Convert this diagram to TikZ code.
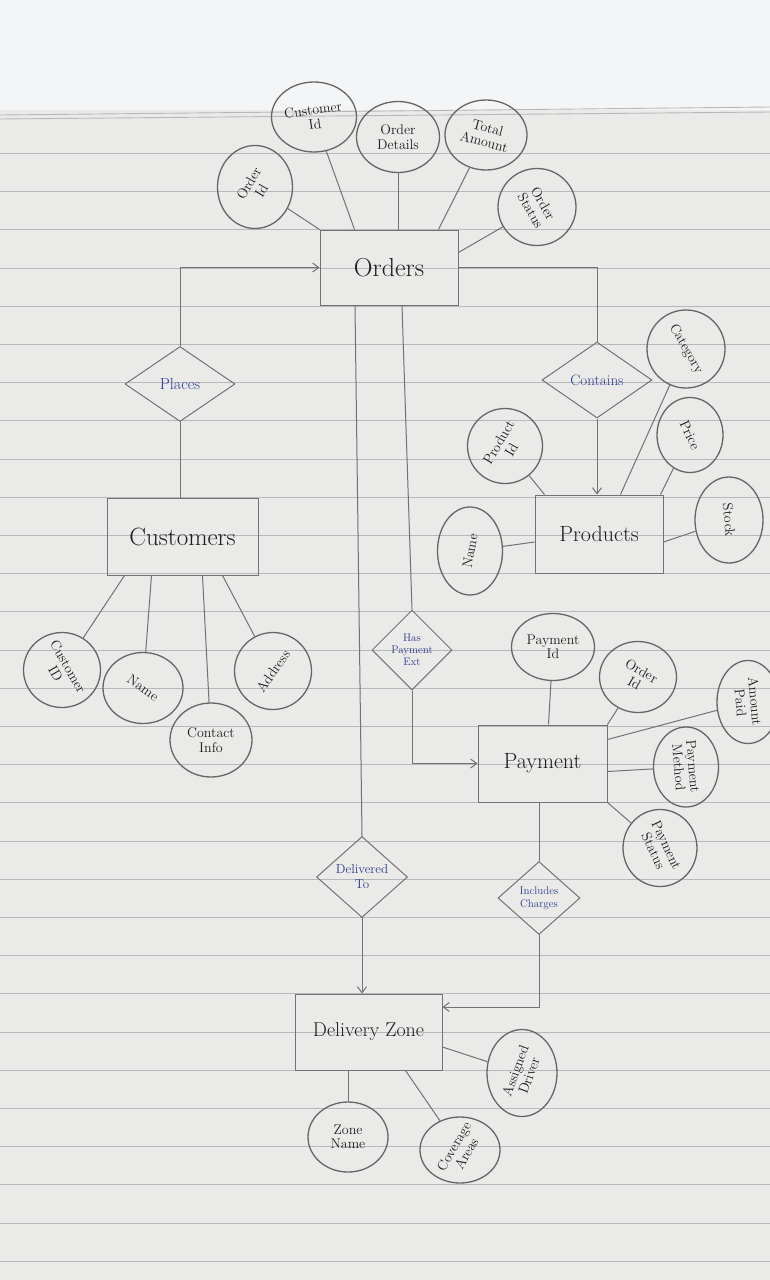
\documentclass[tikz,border=0pt]{standalone}
\usetikzlibrary{shapes.geometric,arrows.meta,calc}
\definecolor{paper}{HTML}{EAEAE9}
\definecolor{papertop}{HTML}{F3F5F6}
\definecolor{ruling}{HTML}{B8B8B8}
\definecolor{pencil}{HTML}{727272}
\definecolor{ovalline}{HTML}{666666}
\definecolor{ink}{HTML}{1E1E1E}
\definecolor{blueink}{HTML}{2B3A8F}
\tikzset{
  entity/.style={draw=pencil, line width=1pt, rectangle, inner sep=0pt, text=ink},
  attr/.style={draw=ovalline, line width=1.3pt, ellipse, inner sep=0pt},
  attrtext/.style={text=ink, align=center, font=\fontsize{14}{14.5}\selectfont, inner sep=0pt},
  rel/.style={draw=pencil, line width=1pt, diamond, inner sep=0pt},
  reltext/.style={text=blueink, align=center, inner sep=0pt},
  conn/.style={draw=pencil, line width=1pt},
  arr/.style={conn, -{Straight Barb[length=6pt,width=9pt]}},
  paperline/.style={draw=ruling, line width=0.9pt},
}
\newcommand\ERattr[6]{%
  \node[attr, minimum width=#3pt, minimum height=#4pt] (#1) at (#2) {};
  \node[attrtext, rotate=#5] (#1-t) at (#1.center) {#6};}
\begin{document}
\begin{tikzpicture}[x=1pt,y=-1pt]
\useasboundingbox (0,0) rectangle (770,1280);
% paper
\fill[paper] (0,0) rectangle (770,1280);
\fill[papertop] (0,0) rectangle (770,110);
\draw[paperline] (0,115) -- (770,107);
\draw[paperline] (0,119) -- (770,112);
\foreach \i in {-3,...,26} \draw[paperline] (0,268+38.2*\i) -- (770,268+38.2*\i);

% ---------- entities ----------
\node[entity, minimum width=138pt, minimum height=75pt, font=\fontsize{26}{28}\selectfont] (orders) at (389,267.5) {Orders};
\node[entity, minimum width=151pt, minimum height=77pt, font=\fontsize{25}{27}\selectfont] (customers) at (182.5,536.5) {Customers};
\node[entity, minimum width=128pt, minimum height=78pt, font=\fontsize{22}{24}\selectfont] (products) at (599,534) {Products};
\node[entity, minimum width=129pt, minimum height=77pt, font=\fontsize{22}{24}\selectfont] (payment) at (542.5,763.5) {Payment};
\node[entity, minimum width=147pt, minimum height=76pt, font=\fontsize{20}{22}\selectfont] (dzone) at (368.5,1032) {Delivery Zone};

% ---------- relationships ----------
\node[rel, minimum width=110pt, minimum height=75pt] (places) at (180,384) {};
\node[reltext, font=\fontsize{16}{17}\selectfont] (places-t) at (places) {Places};
\node[rel, minimum width=110pt, minimum height=76pt] (contains) at (597,380) {};
\node[reltext, font=\fontsize{15}{16}\selectfont] (contains-t) at (contains) {Contains};
\node[rel, minimum width=80pt, minimum height=80pt] (hpe) at (412,650) {};
\node[reltext, font=\fontsize{11}{12}\selectfont] (hpe-t) at (hpe) {Has\\Payment\\Ext};
\node[rel, minimum width=91pt, minimum height=81pt] (delto) at (362,877) {};
\node[reltext, font=\fontsize{13}{15}\selectfont] (delto-t) at (delto) {Delivered\\To};
\node[rel, minimum width=82pt, minimum height=73pt] (incl) at (539,898) {};
\node[reltext, font=\fontsize{11}{13}\selectfont] (incl-t) at (incl) {Includes\\Charges};

% ---------- attributes ----------
\ERattr{oid}{255,187}{75}{83}{60}{Order\\Id}
\ERattr{cid}{314,117}{85}{70}{8}{Customer\\Id}
\ERattr{odet}{398,137}{83}{71}{0}{Order\\Details}
\ERattr{tamt}{486,135}{82}{70}{-15}{Total\\Amount}
\ERattr{ostat}{537,207}{78}{77}{-60}{Order\\Status}

\ERattr{custid}{62,670}{77}{75}{-60}{Customer\\ID}
\ERattr{cname}{143,688}{80}{71}{-35}{Name}
\ERattr{cinfo}{211,740}{82}{74}{0}{Contact\\Info}
\ERattr{caddr}{273,671}{77}{77}{55}{Address}

\ERattr{cat}{686,349}{78}{78}{-60}{Category}
\ERattr{price}{690,435}{66}{75}{-65}{Price}
\ERattr{stock}{729,520}{68}{86}{-85}{Stock}
\ERattr{pid}{505,446}{75}{75}{60}{Product\\Id}
\ERattr{pname}{470,551}{65}{88}{80}{Name}

\ERattr{payid}{553,647}{83}{67}{0}{Payment\\Id}
\ERattr{poid}{638,677}{77}{71}{-30}{Order\\Id}
\ERattr{apaid}{748,702}{62}{83}{-85}{Amount\\Paid}
\ERattr{pmeth}{686,767}{65}{80}{-85}{Payment\\Method}
\ERattr{pstat}{660,848}{74}{77}{-65}{Payment\\Status}

\ERattr{zname}{348,1137}{80}{70}{0}{Zone\\Name}
\ERattr{covar}{460,1150}{80}{66}{60}{Coverage\\Areas}
\ERattr{adrv}{522,1073}{70}{87}{70}{Assigned\\Driver}

% ---------- attribute connectors ----------
\draw[conn] (oid) -- (orders.north west);
\draw[conn] (cid) -- ([xshift=35pt]orders.north west);
\draw[conn] (odet) -- (odet |- orders.north);
\draw[conn] (tamt) -- ([xshift=-20pt]orders.north east);
\draw[conn] (ostat) -- ([yshift=15pt]orders.east);

\draw[conn] (custid) -- ([xshift=18pt]customers.south west);
\draw[conn] (cname) -- ([xshift=45pt]customers.south west);
\draw[conn] (cinfo) -- ([xshift=96pt]customers.south west);
\draw[conn] (caddr) -- ([xshift=-36pt]customers.south east);

\draw[conn] (cat) -- ([xshift=-43pt]products.north east);
\draw[conn] (price) -- ([xshift=-3pt]products.north east);
\draw[conn] (stock) -- ([yshift=-8pt]products.east);
\draw[conn] (pid) -- ([xshift=10pt]products.north west);
\draw[conn] (pname) -- ([yshift=-8pt]products.west);

\draw[conn] (payid) -- ([xshift=6pt]payment.north);
\draw[conn] (poid) -- (payment.north east);
\draw[conn] (apaid) -- ([yshift=-15pt]payment.north east);
\draw[conn] (pmeth) -- ([yshift=-8pt]payment.east);
\draw[conn] (pstat) -- (payment.south east);

\draw[conn] (zname) -- (zname |- dzone.south);
\draw[conn] (covar) -- ([xshift=-37pt]dzone.south east);
\draw[conn] (adrv) -- ([yshift=-15pt]dzone.east);

% ---------- relationship connectors ----------
\draw[arr] (places.north) |- (orders.west);
\draw[conn] (places.south) -- (places.south |- customers.north);
\draw[conn] (orders.east) -| (contains.north);
\draw[arr] (contains.south) -- (contains.south |- products.north);
\draw[conn] ([xshift=13pt]orders.south) -- (hpe.north);
\draw[arr] (hpe.south) |- (payment.west);
\draw[conn] ([xshift=-34pt]orders.south) -- (delto.north);
\draw[arr] (delto.south) -- (delto.south |- dzone.north);
\draw[conn] (incl.north |- payment.south) -- (incl.north);
\draw[arr] (incl.south) |- ([yshift=25pt]dzone.east);
\end{tikzpicture}
\end{document}
